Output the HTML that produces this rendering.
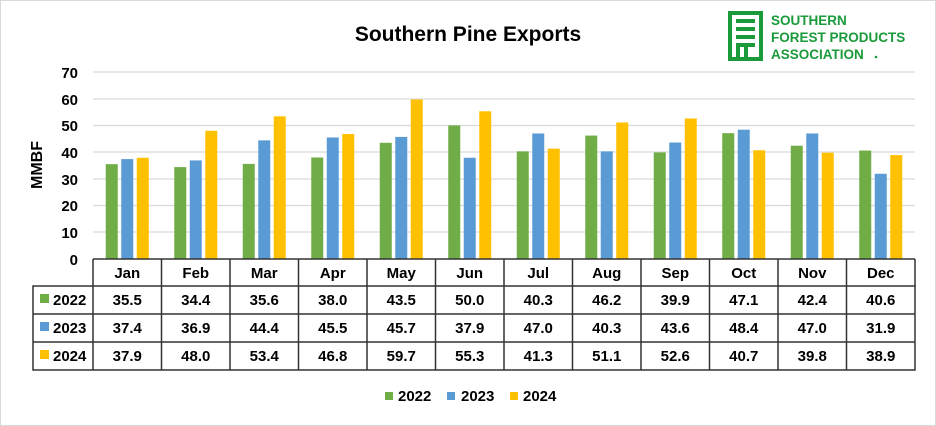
<!DOCTYPE html>
<html><head><meta charset="utf-8"><style>
html,body{margin:0;padding:0;background:#fff;}
svg{display:block;font-family:"Liberation Sans",Arial,sans-serif;}
</style></head><body>
<svg width="936" height="426" viewBox="0 0 936 426" xmlns="http://www.w3.org/2000/svg">
<rect x="0.5" y="0.5" width="935" height="425" fill="#fff" stroke="#d9d9d9"/>
<text x="468" y="41" text-anchor="middle" font-size="21" font-weight="bold" fill="#000">Southern Pine Exports</text>
<!-- logo -->
<rect x="728" y="11" width="35" height="50" fill="#1a9a3a"/>
<rect x="732" y="15" width="27" height="42" fill="#fff"/>
<rect x="736" y="19" width="19" height="4" fill="#1a9a3a"/>
<rect x="736" y="27" width="19" height="4" fill="#1a9a3a"/>
<rect x="736" y="35" width="19" height="4" fill="#1a9a3a"/>
<rect x="736" y="43" width="19" height="4" fill="#1a9a3a"/>
<rect x="744" y="47" width="4" height="10" fill="#1a9a3a"/>
<rect x="736" y="47" width="4" height="10" fill="#1a9a3a"/>
<g font-size="13.5" font-weight="bold" fill="#1a9a3a">
<text x="771" y="25">SOUTHERN</text>
<text x="771" y="42">FOREST PRODUCTS</text>
<text x="771" y="59">ASSOCIATION</text>
<circle cx="876" cy="57" r="1.3"/>
</g>
<!-- grid -->
<g stroke="#d9d9d9" stroke-width="1.3">
<line x1="93" y1="72" x2="915" y2="72"/>
<line x1="93" y1="99" x2="915" y2="99"/>
<line x1="93" y1="125.5" x2="915" y2="125.5"/>
<line x1="93" y1="152" x2="915" y2="152"/>
<line x1="93" y1="179" x2="915" y2="179"/>
<line x1="93" y1="205.5" x2="915" y2="205.5"/>
<line x1="93" y1="232" x2="915" y2="232"/>
</g>
<g font-size="15" font-weight="bold" text-anchor="end" fill="#000">
<text x="78" y="78">70</text><text x="78" y="105">60</text><text x="78" y="131">50</text>
<text x="78" y="158">40</text><text x="78" y="185">30</text><text x="78" y="211">20</text>
<text x="78" y="238">10</text><text x="78" y="265">0</text>
</g>
<text transform="translate(42,165) rotate(-90)" text-anchor="middle" font-size="16" font-weight="bold">MMBF</text>
<g id="bars"></g>
<!-- table -->
<g stroke="#333" stroke-width="1.5" fill="none">
<rect x="33" y="286" width="882" height="84"/>
<line x1="93" y1="259" x2="915" y2="259"/>
<line x1="915" y1="259" x2="915" y2="286"/>
<line x1="33" y1="314" x2="915" y2="314"/>
<line x1="33" y1="342" x2="915" y2="342"/>
</g>
<g id="tbl" font-size="15" font-weight="bold" text-anchor="middle"></g>
<rect x="40" y="294" width="9" height="9" fill="#70AD47"/>
<rect x="40" y="322" width="9" height="9" fill="#5B9BD5"/>
<rect x="40" y="350" width="9" height="9" fill="#FFC000"/>
<g font-size="15" font-weight="bold">
<text x="53" y="305">2022</text><text x="53" y="333">2023</text><text x="53" y="361">2024</text>
</g>
<!-- legend -->
<rect x="385" y="392" width="8" height="8" fill="#70AD47"/>
<rect x="447" y="392" width="8" height="8" fill="#5B9BD5"/>
<rect x="510" y="392" width="8" height="8" fill="#FFC000"/>
<g font-size="15" font-weight="bold">
<text x="398" y="401">2022</text><text x="461" y="401">2023</text><text x="523" y="401">2024</text>
</g>
</svg>
<script>
const m=["Jan","Feb","Mar","Apr","May","Jun","Jul","Aug","Sep","Oct","Nov","Dec"];
const d=[[35.5,34.4,35.6,38.0,43.5,50.0,40.3,46.2,39.9,47.1,42.4,40.6],
[37.4,36.9,44.4,45.5,45.7,37.9,47.0,40.3,43.6,48.4,47.0,31.9],
[37.9,48.0,53.4,46.8,59.7,55.3,41.3,51.1,52.6,40.7,39.8,38.9]];
const c=["#70AD47","#5B9BD5","#FFC000"];
const ns="http://www.w3.org/2000/svg";
const b=document.getElementById("bars"),t=document.getElementById("tbl");
const w=822/12,s=187/70;
function el(p,n,a,tx){const e=document.createElementNS(ns,n);for(const k in a)e.setAttribute(k,a[k]);if(tx)e.textContent=tx;p.appendChild(e);return e;}
for(let i=0;i<12;i++){const cx=93+w*(i+0.5);
for(let k=0;k<3;k++){const h=d[k][i]*s;el(b,"rect",{x:cx+(k-1)*15.5-6,y:259-h,width:12,height:h,fill:c[k]});
el(t,"text",{x:cx,y:305+28*k},d[k][i].toFixed(1));}
el(t,"text",{x:cx,y:278},m[i]);
if(i>0){el(t,"line",{x1:93+w*i,y1:259,x2:93+w*i,y2:370,stroke:"#333","stroke-width":1.5});}}
el(t,"line",{x1:93,y1:259,x2:93,y2:370,stroke:"#333","stroke-width":1.5});
</script>
</body></html>
